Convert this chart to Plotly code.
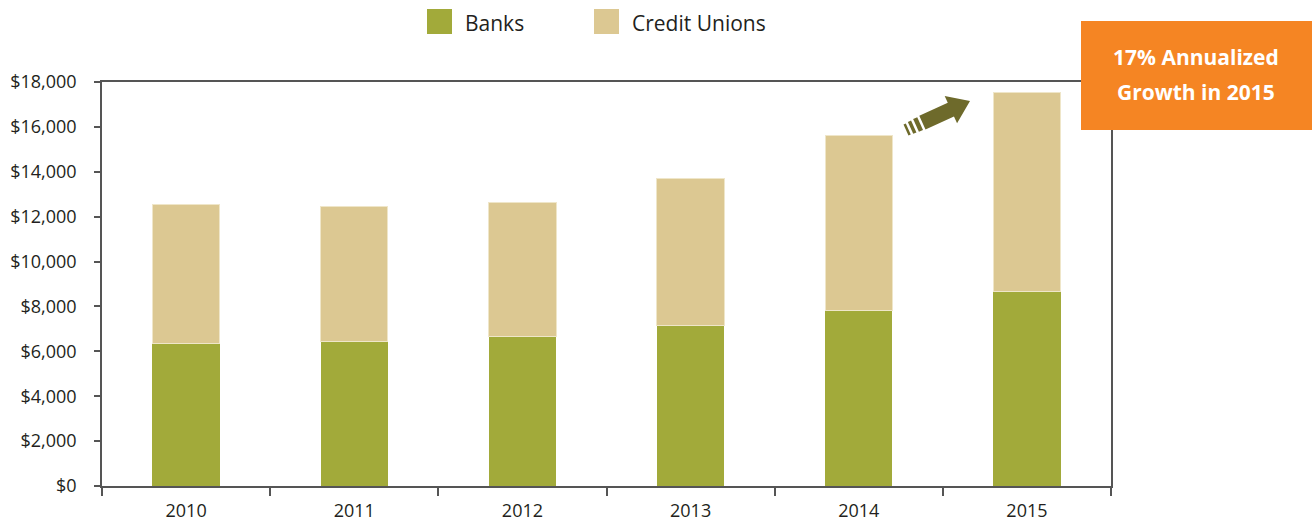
import math
import plotly.graph_objects as go

# Annual volumes by institution type
years = ["2010", "2011", "2012", "2013", "2014", "2015"]
banks = [6360, 6450, 6640, 7130, 7800, 8680]
credit_unions = [6200, 5990, 5990, 6570, 7800, 8870]
series_names = ["Banks", "Credit Unions"]
y_ticks = [0, 2000, 4000, 6000, 8000, 10000, 12000, 14000, 16000, 18000]
y_tick_text = ["$0", "$2,000", "$4,000", "$6,000", "$8,000", "$10,000", "$12,000",
               "$14,000", "$16,000", "$18,000"]
callout_lines = ["17% Annualized", "Growth in 2015"]

BANK_COLOR = "#A2AA3A"
CU_COLOR = "#DCC892"
ARROW_COLOR = "#6E6A2B"
ORANGE = "#F58523"
TEXT_COLOR = "#231F20"
FONT = "Open Sans"

W, H = 1314, 525
M_L, M_R, M_T, M_B = 102, 203, 82, 39
PW, PH = W - M_L - M_R, H - M_T - M_B


def px_to_paper(px, py):
    """Convert page pixel position to paper coordinates."""
    return (px - M_L) / PW, (H - M_B - py) / PH


fig = go.Figure()
fig.add_trace(go.Bar(
    x=years, y=banks, name=series_names[0], marker_color=BANK_COLOR,
    marker_line_width=0, showlegend=False,
))
fig.add_trace(go.Bar(
    x=years, y=credit_unions, name=series_names[1], marker_color=CU_COLOR,
    marker_line=dict(color="#EFE6C9", width=1), showlegend=False,
))

shapes = []
annotations = []

# Legend drawn as large square swatches with labels
legend_items = [(series_names[0], BANK_COLOR, 427), (series_names[1], CU_COLOR, 594)]
for name, color, sx in legend_items:
    x0, y0 = px_to_paper(sx, 34)
    x1, y1 = px_to_paper(sx + 25, 9)
    shapes.append(dict(type="rect", xref="paper", yref="paper", x0=x0, y0=y0, x1=x1, y1=y1,
                       fillcolor=color, line_width=0, layer="above"))
    tx, ty = px_to_paper(sx + 36, 23)
    annotations.append(dict(text=name, xref="paper", yref="paper", x=tx, y=ty,
                            xanchor="left", yanchor="middle", showarrow=False,
                            font=dict(family=FONT, size=21, color=TEXT_COLOR)))

# Orange callout box
bx0, by0 = px_to_paper(1081, 130)
bx1, by1 = px_to_paper(1312, 21)
shapes.append(dict(type="rect", xref="paper", yref="paper", x0=bx0, y0=by0, x1=bx1, y1=by1,
                   fillcolor=ORANGE, line_width=0, layer="above"))
for line, ly in zip(callout_lines, [57, 92]):
    tx, ty = px_to_paper(1196, ly)
    annotations.append(dict(text="<b>" + line + "</b>", xref="paper", yref="paper", x=tx, y=ty,
                            xanchor="center", yanchor="middle", showarrow=False,
                            font=dict(family=FONT, size=21, color="white")))

# Growth arrow with striped tail, built in a local frame along its direction
tail = (906.0, 130.0)
tip = (970.0, 101.0)
dx, dy = tip[0] - tail[0], tip[1] - tail[1]
length = math.hypot(dx, dy)
ux, uy = dx / length, dy / length
vx, vy = -uy, ux


def local(u, v):
    return px_to_paper(tail[0] + ux * u + vx * v, tail[1] + uy * u + vy * v)


def poly_path(pts):
    return "M " + " L ".join(f"{x:.5f},{y:.5f}" for x, y in pts) + " Z"


head_len, head_half, shaft_half = 21, 15, 7.5
body_start = length - head_len
arrow_pts = [local(18, -shaft_half), local(body_start, -shaft_half), local(body_start, -head_half),
             local(length, 0), local(body_start, head_half), local(body_start, shaft_half),
             local(18, shaft_half)]
shapes.append(dict(type="path", xref="paper", yref="paper", path=poly_path(arrow_pts),
                   fillcolor=ARROW_COLOR, line_width=0, layer="above"))
for s0, s1, half in [(0, 2.5, 6), (5, 8.5, 6.5), (11, 15.5, 7)]:
    pts = [local(s0, -half), local(s1, -half), local(s1, half), local(s0, half)]
    shapes.append(dict(type="path", xref="paper", yref="paper", path=poly_path(pts),
                       fillcolor=ARROW_COLOR, line_width=0, layer="above"))

fig.update_layout(
    barmode="stack",
    bargap=0.6,
    width=W, height=H,
    margin=dict(l=M_L, r=M_R, t=M_T, b=M_B, autoexpand=False),
    paper_bgcolor="white",
    plot_bgcolor="white",
    showlegend=False,
    shapes=shapes,
    annotations=annotations,
    font=dict(family=FONT, color=TEXT_COLOR),
)
fig.update_xaxes(
    showline=True, mirror=True, linecolor="#555555", linewidth=1.5,
    ticks="outside", tickson="boundaries", ticklen=8, tickcolor="#555555", tickwidth=1.5,
    ticklabelstandoff=8,
    showgrid=False, tickfont=dict(size=18, color=TEXT_COLOR),
)
fig.update_yaxes(
    range=[0, 18000], tickmode="array", tickvals=y_ticks, ticktext=y_tick_text,
    showline=True, mirror=True, linecolor="#555555", linewidth=1.5,
    ticks="outside", ticklen=6, tickcolor="#555555", tickwidth=1.5,
    ticklabelstandoff=14,
    showgrid=False, zeroline=False, tickfont=dict(size=18, color=TEXT_COLOR),
)

fig.write_html("out.html")
